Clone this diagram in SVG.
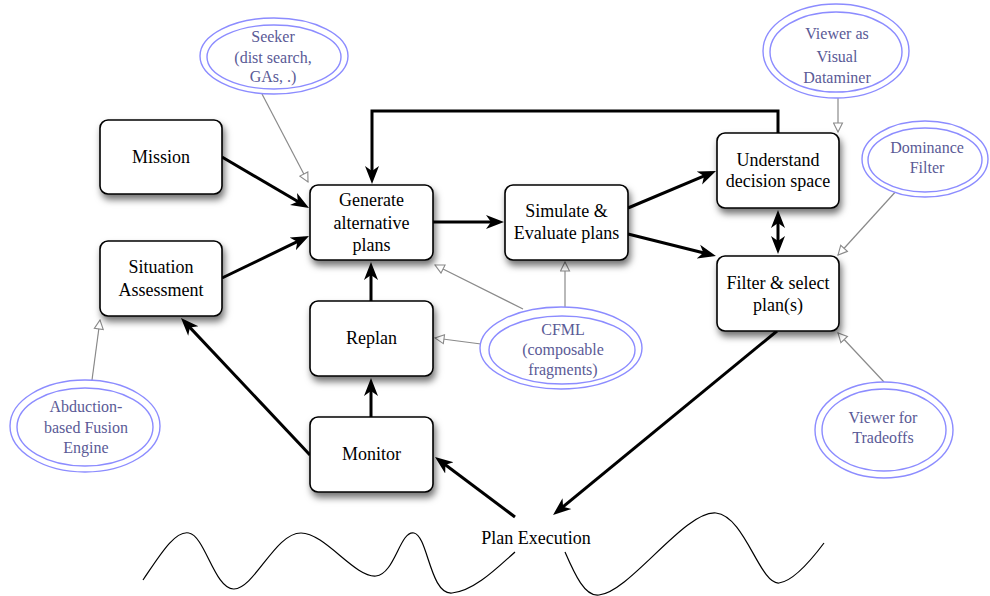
<svg xmlns="http://www.w3.org/2000/svg" width="990" height="596" viewBox="0 0 990 596">
<style>
.box rect{fill:#fff;stroke:#000;stroke-width:1.6;filter:url(#sh)}
.box text{font-family:"Liberation Serif","Times New Roman",serif;font-size:18px;fill:#000;text-anchor:middle}
.ell ellipse{fill:#fff;stroke:#8c8cff;stroke-width:1.4}
.ell text{font-family:"Liberation Serif","Times New Roman",serif;font-size:16px;fill:#5a5a96;text-anchor:middle}
.thick{fill:none;stroke:#000;stroke-width:3;marker-end:url(#ah)}
.thin{fill:none;stroke:#8a8a8a;stroke-width:1.2;marker-end:url(#oh)}
.wave{fill:none;stroke:#000;stroke-width:1.2}
.lbl{font-family:"Liberation Serif","Times New Roman",serif;font-size:18px;fill:#000;text-anchor:middle}
</style>
<defs>
<filter id="sh" x="-20%" y="-20%" width="150%" height="160%">
<feDropShadow dx="2" dy="5" stdDeviation="3.5" flood-color="#000" flood-opacity="0.55"/>
</filter>
<marker id="ah" markerUnits="userSpaceOnUse" markerWidth="18" markerHeight="16" viewBox="0 0 18 16" refX="13" refY="8" orient="auto-start-reverse">
<path d="M0,1 L18,8 L0,15 L5,8 z" fill="#000"/>
</marker>
<marker id="oh" markerUnits="userSpaceOnUse" markerWidth="11" markerHeight="11" viewBox="0 0 11 11" refX="10" refY="5.5" orient="auto">
<path d="M1,1 L10,5.5 L1,10 z" fill="#fff" stroke="#8a8a8a" stroke-width="1.1"/>
</marker>
</defs>

<g id="waves">
<path class="wave" d="M143,580 C160,555 175,530 189,533 C205,536 215,590 234,589 C255,588 275,533 301,533 C325,533 355,578 376,576 C395,574 400,530 414,533 C428,536 430,595 452,593 C475,591 500,565 515,552"/>
<path class="wave" d="M565,552 C575,575 585,597 599,595 C630,592 685,510 716,513 C745,516 760,585 779,583 C795,581 815,555 824,543"/>
</g>

<g id="connectors">
<path class="thick" d="M222,157 L304.7,205.5"/>
<path class="thick" d="M222,278 L304.5,238.2"/>
<path class="thick" d="M778,133 V111 H372 V179"/>
<path class="thick" d="M433,222 H499"/>
<path class="thick" d="M628,208 L711.4,172.9"/>
<path class="thick" d="M628,234 L711.1,254.8"/>
<path class="thick" d="M778,215 V249" style="marker-start:url(#ah)"/>
<path class="thick" d="M371,301 V267"/>
<path class="thick" d="M371,417 V383"/>
<path class="thick" d="M310,455 L184.4,321.6"/>
<path class="thick" d="M777,331 L556.9,511.8"/>
<path class="thick" d="M515,517 L439,460"/>
<path class="thin" d="M262,94 L308,182"/>
<path class="thin" d="M523,309 L435,265"/>
<path class="thin" d="M565,307 V262"/>
<path class="thin" d="M481,344 L435,338"/>
<path class="thin" d="M838,98 V132"/>
<path class="thin" d="M898,189 L838,255"/>
<path class="thin" d="M884,382 L838,333"/>
<path class="thin" d="M92,380 L100,320"/>
</g>

<g id="mission" class="box"><rect x="100" y="120" width="122" height="74" rx="8"/><text x="161" y="163">Mission</text></g>
<g id="situation" class="box"><rect x="100" y="241" width="122" height="75" rx="8"/><text x="161" y="273">Situation</text><text x="161" y="296">Assessment</text></g>
<g id="generate" class="box"><rect x="310" y="185" width="123" height="75" rx="8"/><text x="371.5" y="206">Generate</text><text x="371.5" y="229">alternative</text><text x="371.5" y="251">plans</text></g>
<g id="replan" class="box"><rect x="310" y="301" width="123" height="75" rx="8"/><text x="371.5" y="344">Replan</text></g>
<g id="monitor" class="box"><rect x="310" y="417" width="123" height="75" rx="8"/><text x="371.5" y="460">Monitor</text></g>
<g id="simulate" class="box"><rect x="505" y="185" width="123" height="75" rx="8"/><text x="566.5" y="217">Simulate &amp;</text><text x="566.5" y="239">Evaluate plans</text></g>
<g id="understand" class="box"><rect x="717" y="133" width="122" height="75" rx="8"/><text x="778" y="166">Understand</text><text x="778" y="187">decision space</text></g>
<g id="filter" class="box"><rect x="717" y="256" width="122" height="75" rx="8"/><text x="778" y="289">Filter &amp; select</text><text x="778" y="311">plan(s)</text></g>

<g id="seeker" class="ell"><ellipse cx="274" cy="56" rx="74" ry="38"/><ellipse cx="274" cy="57" rx="67" ry="32"/><text x="273" y="42">Seeker</text><text x="273" y="63">(dist search,</text><text x="273" y="82">GAs, .)</text></g>
<g id="dataminer" class="ell"><ellipse cx="836" cy="51" rx="73" ry="47"/><ellipse cx="836" cy="52" rx="66" ry="40"/><text x="837" y="39">Viewer as</text><text x="837" y="62">Visual</text><text x="837" y="83">Dataminer</text></g>
<g id="dominance" class="ell"><ellipse cx="925" cy="159" rx="63" ry="38"/><ellipse cx="925" cy="160" rx="57" ry="32"/><text x="927" y="153">Dominance</text><text x="927" y="173">Filter</text></g>
<g id="abduction" class="ell"><ellipse cx="85" cy="426" rx="75" ry="46"/><ellipse cx="85" cy="427" rx="68" ry="39"/><text x="86" y="412">Abduction-</text><text x="86" y="433">based Fusion</text><text x="86" y="453">Engine</text></g>
<g id="cfml" class="ell"><ellipse cx="561" cy="348" rx="81" ry="41"/><ellipse cx="562" cy="350" rx="73" ry="34"/><text x="563" y="335">CFML</text><text x="563" y="355">(composable</text><text x="563" y="375">fragments)</text></g>
<g id="tradeoffs" class="ell"><ellipse cx="884" cy="430" rx="69" ry="48"/><ellipse cx="884" cy="430" rx="62" ry="41"/><text x="883" y="423">Viewer for</text><text x="883" y="443">Tradeoffs</text></g>

<g id="planexec"><text class="lbl" x="536" y="544">Plan Execution</text></g>
</svg>
